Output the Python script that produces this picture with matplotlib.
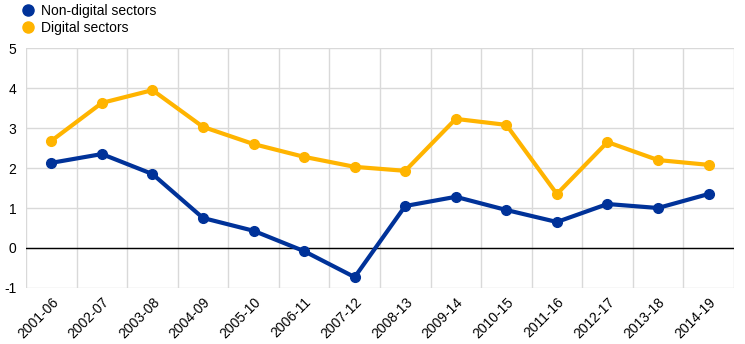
import numpy as np
import matplotlib.pyplot as plt
from matplotlib.lines import Line2D

plt.rcParams['font.family'] = ['Liberation Sans', 'DejaVu Sans']

# data
periods = ["2001-06", "2002-07", "2003-08", "2004-09", "2005-10", "2006-11", "2007-12",
           "2008-13", "2009-14", "2010-15", "2011-16", "2012-17", "2013-18", "2014-19"]
non_digital = [2.13, 2.35, 1.85, 0.75, 0.43, -0.08, -0.73, 1.05, 1.28, 0.95, 0.65, 1.10, 1.00, 1.35]
digital = [2.68, 3.63, 3.95, 3.03, 2.60, 2.28, 2.03, 1.93, 3.23, 3.08, 1.35, 2.65, 2.20, 2.08]
yticks = [-1, 0, 1, 2, 3, 4, 5]

blue = '#003299'
yellow = '#ffb400'
grid = '#d9d9d9'

fig = plt.figure(figsize=(7.45, 3.44), dpi=100)
ax = fig.add_axes([0.035, 0.163, 0.95, 0.697])

x = np.arange(len(periods))
ax.plot(x, non_digital, color=blue, lw=3, marker='o', ms=7, zorder=4)
ax.plot(x, digital, color=yellow, lw=3, marker='o', ms=7, zorder=4)

ax.set_xlim(-0.5, len(periods) - 0.5)
ax.set_ylim(-1, 5)
ax.set_yticks(yticks)
ax.set_yticklabels([str(t) for t in yticks], fontsize=10)
ax.set_xticks(x)
ax.set_xticklabels(periods, rotation=45, ha='right', rotation_mode='anchor', fontsize=10)

# gridlines sit at category boundaries
ax.set_xticks(np.arange(len(periods) + 1) - 0.5, minor=True)
ax.grid(True, which='minor', axis='x', color=grid, lw=1)
ax.grid(True, which='major', axis='y', color=grid, lw=1)
ax.tick_params(axis='both', which='both', length=0)
ax.tick_params(axis='y', pad=7)
ax.tick_params(axis='x', pad=5)
ax.axhline(0, color='black', lw=1, zorder=3)
for s in ax.spines.values():
    s.set_visible(False)
ax.set_axisbelow(True)

handles = [Line2D([], [], ls='none', marker='o', ms=8, color=blue),
           Line2D([], [], ls='none', marker='o', ms=8, color=yellow)]
fig.legend(handles, ["Non-digital sectors", "Digital sectors"], loc='upper left',
           bbox_to_anchor=(0.01, 1.025), frameon=False, fontsize=10,
           handletextpad=0.3, labelspacing=0.2, handlelength=1.2)

fig.savefig('out.png', dpi=100)
